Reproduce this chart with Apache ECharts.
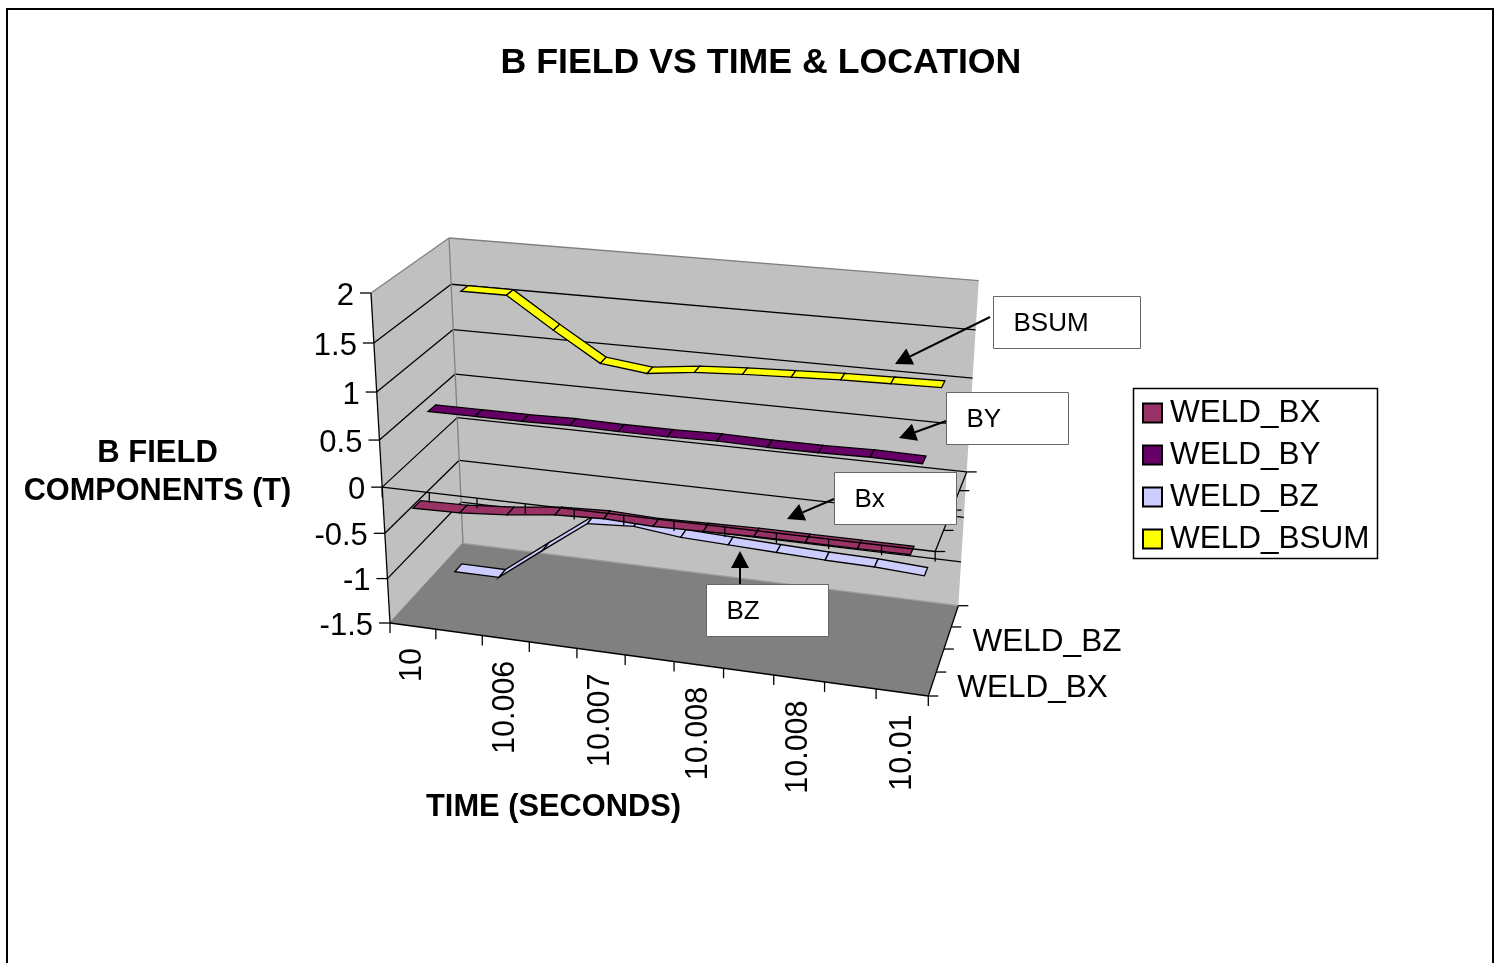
<!DOCTYPE html>
<html><head><meta charset="utf-8">
<style>html,body{margin:0;padding:0;background:#fff}#c{width:1495px;height:963px}</style>
<script src="https://cdn.jsdelivr.net/npm/echarts@6/dist/echarts.min.js"></script>
</head><body><div id="c"></div>
<script>
const titleText = 'B FIELD VS TIME & LOCATION';
const timeLabels = ['10','10.005','10.006','10.006','10.007','10.007','10.008','10.008','10.008','10.009','10.01'];
const valueTicks = [2,1.5,1,0.5,0,-0.5,-1,-1.5];
const seriesNames = ['WELD_BX','WELD_BY','WELD_BZ','WELD_BSUM'];
const seriesColors = ['#993366','#660066','#CCCCFF','#FFFF00'];
const WELD_BX = [-0.26,-0.25,-0.21,-0.15,-0.13,-0.15,-0.14,-0.13,-0.13,-0.13,-0.13];
const WELD_BY = [0.59,0.59,0.59,0.6,0.59,0.59,0.6,0.59,0.59,0.6,0.59];
const WELD_BZ = [-1.42,-1.42,-1.04,-0.67,-0.64,-0.7,-0.72,-0.74,-0.76,-0.77,-0.8];
const WELD_BSUM = [1.55,1.55,1.22,0.91,0.85,0.91,0.94,0.96,0.98,0.99,1.0];
const seriesValues = [WELD_BX,WELD_BY,WELD_BZ,WELD_BSUM];
const callouts = [
  {text:'BSUM', box:[993,296,147,52], from:[990,317], to:[895,364]},
  {text:'BY', box:[946,392,122,52], from:[946,421], to:[899,438]},
  {text:'Bx', box:[834,472,122,52], from:[834,499], to:[787,519]},
  {text:'BZ', box:[706,584,122,52], from:[740,584], to:[740,551]}
];

// Scene box of the 3-D plot: corners on the page (left/right, front/back, floor/top)
const box = {
  fl:[390,623], bl:[463,543.3], br:[958.3,605.7], fr:[928.3,696],
  flt:[371,293], blt:[449,238], brt:[978.7,280.7], frt:[945,345]
};
const GRID = {left:390, top:293, width:538, height:330};
const pers = (t,a)=>a*t/(1+(a-1)*t);
const mix = (p,q,t)=>[p[0]+(q[0]-p[0])*t, p[1]+(q[1]-p[1])*t];
function project(u,s,z){
  const U=pers(u,0.931), Z=pers(z,1.083), V=pers(s,0.933);
  const floor=mix(mix(box.fl,box.fr,U),mix(box.bl,box.br,U),Z);
  const top=mix(mix(box.flt,box.frt,U),mix(box.blt,box.brt,U),Z);
  return mix(floor,top,V);
}
const sOf = v=>(v-(-1.5))/3.5;
const DEPTH = 4, RIBBON = 0.1, LW = 1.3;
const line=(a,b,color,w,z)=>({type:'line',shape:{x1:a[0],y1:a[1],x2:b[0],y2:b[1]},style:{stroke:color,lineWidth:w||LW},z2:z||0});
const poly=(pts,fill,stroke)=>({type:'polygon',shape:{points:pts},style:{fill:fill,stroke:stroke||null,lineWidth:LW}});
const txt=(x,y,t,size,align,vAlign,rot,weight)=>({type:'text',x:x,y:y,rotation:rot||0,style:{text:t,fill:'#000',font:(weight||'normal')+' '+size+'px "Liberation Sans", Arial, sans-serif',align:align,verticalAlign:vAlign}});

function toPlane(c){ return [(c[0]-GRID.left)/GRID.width,(GRID.top+GRID.height-c[1])/GRID.height]; }

function ribbonItem(depthIdx,values,color){
  return function(params,api){
    const i=api.value(0);
    if(i>=values.length-1) return {type:'group',children:[]};
    const a=toPlane(api.coord([i,api.value(1)]));
    const b=toPlane(api.coord([i+1,values[i+1]]));
    const zc=(depthIdx+0.5)/DEPTH;
    const pts=[project(a[0],a[1],zc-RIBBON/2),project(a[0],a[1],zc+RIBBON/2),project(b[0],b[1],zc+RIBBON/2),project(b[0],b[1],zc-RIBBON/2)];
    return poly(pts,color,'#000');
  };
}

function frameItem(){
  const n=timeLabels.length, ch=[];
  ch.push(poly([project(0,0,0),project(1,0,0),project(1,0,1),project(0,0,1)],'#808080'));
  ch.push(poly([project(0,0,1),project(1,0,1),project(1,1,1),project(0,1,1)],'#C0C0C0'));
  ch.push(poly([project(0,0,0),project(0,0,1),project(0,1,1),project(0,1,0)],'#C0C0C0'));
  valueTicks.forEach(v=>{
    const s=sOf(v);
    if(v>-1.5 && v<2){
      ch.push(line(project(0,s,0),project(0,s,1),'#000'));
      ch.push(line(project(0,s,1),project(1,s,1),'#000'));
    }
    const p=project(0,s,0);
    ch.push(line([p[0]-11,p[1]],p,'#000'));
    ch.push(txt(p[0]-17,p[1]+3,String(v),31,'right','middle'));
  });
  ch.push(line(project(0,1,0),project(0,1,1),'#808080'));
  ch.push(line(project(0,1,1),project(1,1,1),'#808080'));
  ch.push(line(project(0,0,1),project(0,1,1),'#808080'));
  ch.push(line(project(0,0,0),project(0,0,1),'#808080'));
  ch.push(line(project(0,0,1),project(1,0,1),'#999'));
  ch.push(line(project(0,1,0),project(0,0,0),'#000'));
  ch.push(line(project(0,0,0),project(1,0,0),'#000'));
  ch.push(line(project(1,0,0),project(1,0,1),'#000'));
  for(let i=0;i<=n;i++){
    const p=project(i/n,0,0);
    ch.push(line(p,[p[0],p[1]+10],'#000'));
    if(i<n && i%2===0){
      const c=project((i+0.5)/n,0,0);
      ch.push(txt(c[0],c[1]+22,timeLabels[i],30.5,'right','middle',Math.PI/2));
    }
  }
  for(let d=0;d<=DEPTH;d++){
    const p=project(1,0,d/DEPTH);
    ch.push(line(p,[p[0]+10,p[1]],'#000'));
    if(d<DEPTH && d%2===0){
      const c=project(1,0,(d+0.5)/DEPTH);
      ch.push(txt(c[0]+25,c[1]+4,seriesNames[d],31.5,'left','middle'));
    }
  }
  return {type:'group',children:ch};
}

function zeroPlaneItem(){
  const n=timeLabels.length, ch=[], s=sOf(0);
  ch.push(line(project(0,s,0),project(1,s,0),'#000'));
  ch.push(line(project(1,s,0),project(1,s,1),'#000'));
  for(let i=0;i<=n;i++){
    const p=project(i/n,s,0);
    ch.push(line(p,[p[0],p[1]+10],'#000'));
  }
  for(let d=0;d<=DEPTH;d++){
    const p=project(1,s,d/DEPTH);
    ch.push(line(p,[p[0]+10,p[1]],'#000'));
  }
  return {type:'group',children:ch};
}

function arrowHead(to,from){
  const ang=Math.atan2(to[1]-from[1],to[0]-from[0]);
  const L=17,W=9;
  const bx=to[0]-L*Math.cos(ang), by=to[1]-L*Math.sin(ang);
  return [to,[bx+W*Math.sin(ang),by-W*Math.cos(ang)],[bx-W*Math.sin(ang),by+W*Math.cos(ang)]];
}
const graphics=[
  {type:'rect',z:0,shape:{x:7,y:9,width:1486,height:970},style:{fill:'none',stroke:'#000',lineWidth:2},silent:true},
  {type:'rect',z:1,shape:{x:1133.5,y:388.5,width:244,height:170},style:{fill:'#fff',stroke:'#000',lineWidth:1.5},silent:true},
  {type:'text',x:157.5,y:453,z:50,style:{text:'B FIELD',fill:'#000',font:'bold 31px "Liberation Sans", Arial, sans-serif',align:'center',verticalAlign:'middle'}},
  {type:'text',x:157.5,y:492,z:50,style:{text:'COMPONENTS (T)',fill:'#000',font:'bold 30.7px "Liberation Sans", Arial, sans-serif',align:'center',verticalAlign:'middle'}},
  {type:'text',x:553.5,y:808,z:50,style:{text:'TIME (SECONDS)',fill:'#000',font:'bold 30.8px "Liberation Sans", Arial, sans-serif',align:'center',verticalAlign:'middle'}}
];
callouts.forEach(c=>{
  graphics.push({type:'rect',z:60,shape:{x:c.box[0]+0.5,y:c.box[1]+0.5,width:c.box[2],height:c.box[3]},style:{fill:'#fff',stroke:'#666',lineWidth:1}});
  graphics.push({type:'text',z:61,x:c.box[0]+20.5,y:c.box[1]+c.box[3]/2+2,style:{text:c.text,fill:'#000',font:'26px "Liberation Sans", Arial, sans-serif',align:'left',verticalAlign:'middle'}});
  const a=arrowHead(c.to,c.from);
  graphics.push({type:'line',z:61,shape:{x1:c.from[0],y1:c.from[1],x2:(a[1][0]+a[2][0])/2,y2:(a[1][1]+a[2][1])/2},style:{stroke:'#000',lineWidth:2}});
  graphics.push({type:'polygon',z:61,shape:{points:a},style:{fill:'#000'}});
});

const series=[
  {type:'custom',name:'frame',silent:true,z:1,clip:false,data:[[0,0]],encode:{x:0,y:1},renderItem:frameItem}
];
seriesNames.forEach((name,d)=>{
  series.push({type:'custom',name:name,z:10-d,clip:false,silent:true,
    itemStyle:{color:seriesColors[d],borderColor:'#000',borderWidth:1},
    data:seriesValues[d].map((v,i)=>[i,v]),encode:{x:0,y:1},
    renderItem:ribbonItem(d,seriesValues[d],seriesColors[d])});
});
series.push({type:'custom',name:'zero',silent:true,z:20,clip:false,data:[[0,0]],encode:{x:0,y:1},renderItem:zeroPlaneItem});

const chart=echarts.init(document.getElementById('c'),null,{renderer:'canvas',width:1495,height:963});
chart.setOption({
  animation:false,
  backgroundColor:'#fff',
  title:{text:titleText,left:756,top:40,textAlign:'center',textStyle:{fontFamily:'"Liberation Sans", Arial, sans-serif',fontWeight:'bold',fontSize:35.7,color:'#000'}},
  grid:{left:GRID.left,top:GRID.top,width:GRID.width,height:GRID.height},
  xAxis:{type:'category',data:timeLabels,show:false},
  yAxis:{type:'value',min:-1.5,max:2,interval:0.5,show:false},
  legend:{data:seriesNames,orient:'vertical',left:1142,top:397,itemWidth:19,itemHeight:19,itemGap:10,padding:0,selectedMode:false,icon:'rect',
    textStyle:{fontFamily:'"Liberation Sans", Arial, sans-serif',fontSize:31.5,color:'#000',padding:[8,0,0,3]},z:5},
  graphic:{elements:graphics},
  tooltip:{show:false},
  series:series
});
</script></body></html>
